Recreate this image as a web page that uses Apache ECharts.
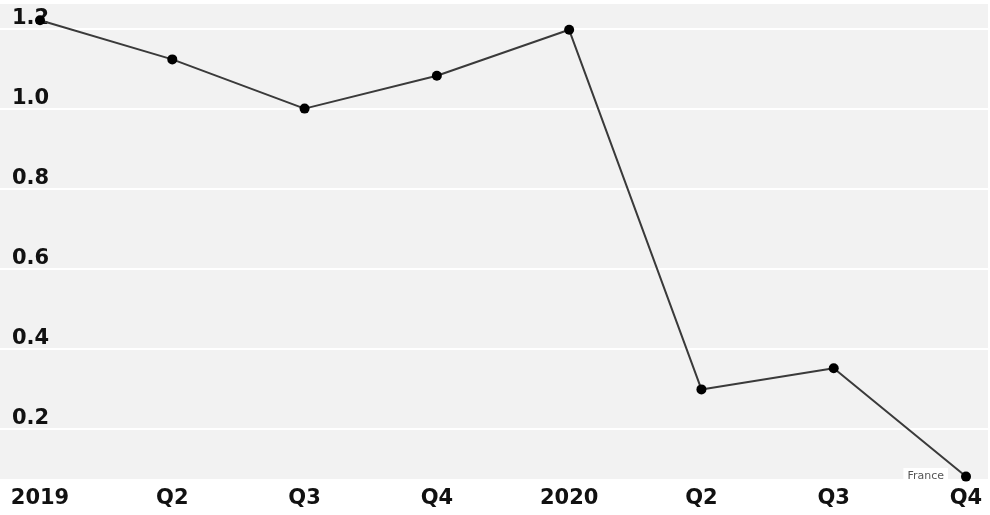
<!DOCTYPE html>
<html>
<head>
<meta charset="utf-8">
<script src="https://cdn.jsdelivr.net/npm/echarts@6/dist/echarts.min.js"></script>
<style>
html,body{margin:0;padding:0;background:#fff;}
#chart{width:990px;height:515px;}
</style>
</head>
<body>
<div id="chart"></div>
<script>
const categories = ['2019', 'Q2', 'Q3', 'Q4', '2020', 'Q2', 'Q3', 'Q4'];
const values = [1.222, 1.124, 1.001, 1.083, 1.198, 0.299, 0.352, 0.081];
const seriesName = 'France';
const yMin = 0.0725;
const yMax = 1.265;

const chart = echarts.init(document.getElementById('chart'));
const FONT = 'DejaVu Sans';

const lineData = values.map((v, i) => {
  if (i === values.length - 1) {
    return {
      value: v,
      label: {
        show: true,
        formatter: seriesName,
        position: 'left',
        distance: 13,
        color: '#555',
        fontSize: 11,
        fontFamily: FONT,
        backgroundColor: '#ffffff',
        padding: [3, 4, 3, 4]
      }
    };
  }
  return v;
});

chart.setOption({
  animation: false,
  backgroundColor: '#ffffff',
  grid: [
    { left: 0, right: 2, top: 3, bottom: 35, show: true, backgroundColor: '#f2f2f2', borderWidth: 0 },
    { left: 40, right: 24, top: 3, bottom: 35 }
  ],
  xAxis: [
    { gridIndex: 0, type: 'value', min: 0, max: 1, show: false },
    {
      gridIndex: 1, type: 'category', data: categories, boundaryGap: false,
      axisLine: { show: false }, axisTick: { show: false },
      axisLabel: { color: '#111', fontSize: 21, fontWeight: 'bold', fontFamily: FONT, margin: 8, interval: 0 }
    }
  ],
  yAxis: [
    {
      gridIndex: 0, type: 'value', min: yMin, max: yMax, splitNumber: 6,
      axisLine: { show: false }, axisTick: { show: false },
      splitLine: { show: true, lineStyle: { color: '#ffffff', width: 2 } },
      axisLabel: {
        inside: true, margin: 12, verticalAlign: 'bottom',
        color: '#111', fontSize: 21, fontWeight: 'bold', fontFamily: FONT,
        showMinLabel: false, showMaxLabel: false,
        formatter: v => v.toFixed(1)
      }
    },
    { gridIndex: 1, type: 'value', min: yMin, max: yMax, show: false }
  ],
  series: [
    {
      name: seriesName, type: 'line', xAxisIndex: 1, yAxisIndex: 1,
      data: lineData, clip: false,
      symbol: 'circle', symbolSize: 10,
      itemStyle: { color: '#000' },
      lineStyle: { color: '#3a3a3a', width: 2 },
      z: 5
    }
  ]
});
</script>
</body>
</html>
